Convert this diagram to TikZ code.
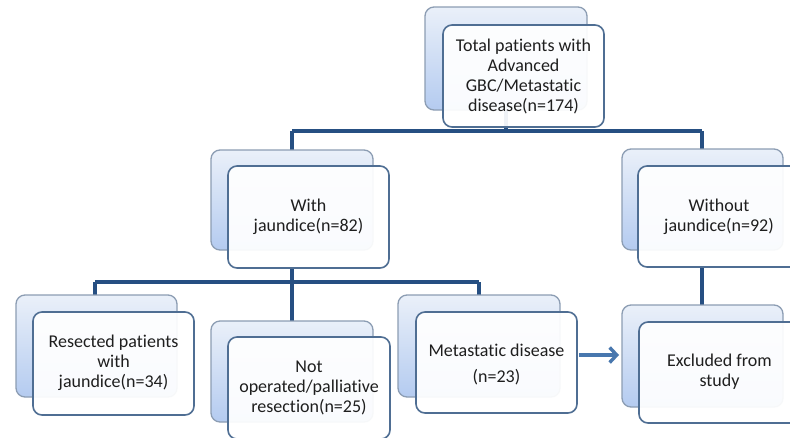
\documentclass[tikz,border=0pt]{standalone}
\usepackage{fontspec}
\setmainfont[Ligatures=NoCommon]{Carlito}
\usetikzlibrary{arrows.meta}
\definecolor{linec}{HTML}{264F82}
\definecolor{frontc}{HTML}{4F6E93}
\definecolor{backc}{HTML}{8C9DB3}
\definecolor{shtop}{HTML}{EAF0F9}
\definecolor{shbot}{HTML}{B4CBF0}
\definecolor{txt}{HTML}{1E1E1E}
\definecolor{arrc}{HTML}{4877AE}
\tikzset{
  backbox/.style={draw=backc, line width=1.3pt, rounded corners=9pt, top color=shtop, bottom color=shbot},
  frontbox/.style={draw=frontc, line width=1.6pt, rounded corners=9pt, fill=white, fill opacity=0.93},
  lbl/.style={text=txt, align=center, font=\fontsize{18}{20}\selectfont},
  conn/.style={draw=linec, line width=3.2pt},
}
\begin{document}
\begin{tikzpicture}[x=1pt,y=-1pt]
\useasboundingbox (0,0) rectangle (790,437);
\clip (0,0) rectangle (790,437);
\fill[white] (0,0) rectangle (790,437);
% connectors first
\coordinate (h1l) at (292,131);
\coordinate (h1r) at (702,131);
\coordinate (h2l) at (95,282);
\coordinate (h2r) at (479,282);
\coordinate (h2m) at (292,282);
\draw[conn] (506,110) -- (506,131);
\draw[conn] (h1l) -- (h1r);
\draw[conn] (h1l) -- (292,150);
\draw[conn] (h1r) -- (702,149);
\draw[conn] (292,268) -- (h2m);
\draw[conn] (h2l) -- (h2r);
\draw[conn] (h2l) -- (95,295);
\draw[conn] (h2m) -- (292,321);
\draw[conn] (h2r) -- (479,295);
\draw[conn] (702,267) -- (702,305);
% boxes
\path[backbox] (425,7) rectangle (587,110);
\path[frontbox] (443,25) rectangle (604,127);
\node[lbl] (top) at (523.5,76) {Total patients with\\Advanced\\GBC/Metastatic\\disease(n=174)};

\path[backbox] (211,150) rectangle (373,250);
\path[frontbox] (228,166) rectangle (389,268);
\node[lbl] (with) at (308.5,217) {With\\jaundice(n=82)};

\path[backbox] (622,149) rectangle (783,250);
\path[frontbox] (638,166) rectangle (800,267);
\node[lbl] (without) at (719,217) {Without\\jaundice(n=92)};

\path[backbox] (16,295) rectangle (177,397);
\path[frontbox] (33,312) rectangle (194,415);
\node[lbl] (res) at (113.5,363) {Resected patients\\with\\jaundice(n=34)};

\path[backbox] (211,321) rectangle (373,422);
\path[frontbox] (228,337) rectangle (390,439);
\node[lbl] (notop) at (309,388) {Not\\operated/palliative\\resection(n=25)};

\path[backbox] (398,295) rectangle (560,397);
\path[frontbox] (416,312) rectangle (577,413);
\node[lbl] (meta) at (496.5,364) {Metastatic disease\\[6pt](n=23)};

\path[backbox] (622,305) rectangle (783,407);
\path[frontbox] (639,322) rectangle (800,423);
\node[lbl] (excl) at (719.5,372) {Excluded from\\study};

\coordinate (as) at (579,355);
\coordinate (ae) at (619,355);
\draw[draw=arrc, line width=3.6pt, -{Straight Barb[length=7pt,width=15pt,line width=3.4pt]}] (as) -- (ae);
\end{tikzpicture}
\end{document}
